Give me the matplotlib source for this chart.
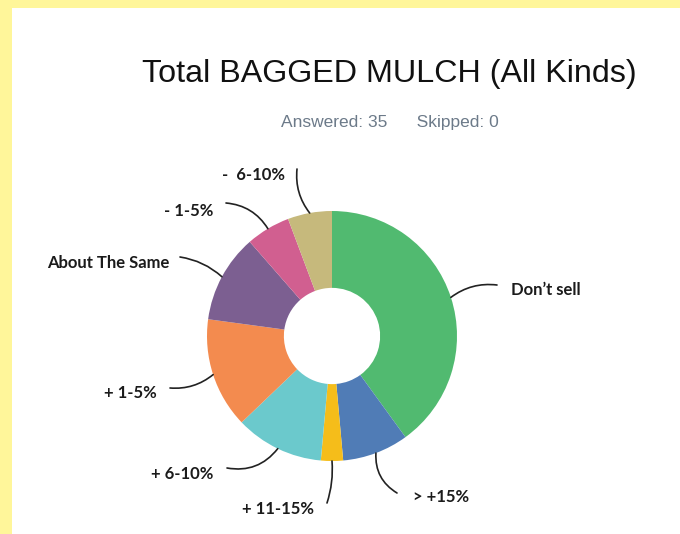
import numpy as np
import matplotlib.pyplot as plt
from matplotlib.patches import Rectangle

W, H = 680, 534

# 数据（共 35 份回答）
labels = ["Don\u2019t sell", "> +15%", "+ 11-15%", "+ 6-10%", "+ 1-5%",
          "About The Same", "- 1-5%", "-  6-10%"]
counts = [14, 3, 1, 4, 5, 4, 2, 2]
colors = ["#51BA70", "#507CB6", "#F5BD1A", "#6BC9CC", "#F38B4F",
          "#7C5F91", "#D15F90", "#C6B97C"]
answered = 35
skipped = 0

# 标签位置（像素坐标, y 从上往下）: 文字左端, 文字中心 y, 连线终点, 弧度
label_pos = [(511, 290), (413, 497), (242, 509), (151, 474),
             (104, 393), (47, 263), (164, 211), (222, 175)]
line_end = [(497, 285), (397, 493), (327, 503), (227, 468),
            (170, 388), (180, 257), (226, 203), (297, 169)]
line_rad = [-0.2, 0.3, -0.1, -0.3, -0.2, 0.15, 0.25, -0.2]

cx, cy, R = 332, 336, 125

fig = plt.figure(figsize=(W / 100, H / 100), dpi=100)
fig.patch.set_facecolor("#FFF69A")
ax = fig.add_axes([0, 0, 1, 1])
ax.add_patch(Rectangle((12, 0), W - 12, H - 8, facecolor="white",
                       edgecolor="none", zorder=0))

wedges, _ = ax.pie(counts, colors=colors, center=(cx, H - cy), radius=R,
                   startangle=90, counterclock=False, frame=True,
                   wedgeprops=dict(width=R * 0.615, linewidth=0))

for w, lab, (tx, ty), (ex, ey), rad in zip(wedges, labels, label_pos,
                                           line_end, line_rad):
    mid = np.deg2rad((w.theta1 + w.theta2) / 2)
    sx = cx + R * np.cos(mid)
    sy = (H - cy) + R * np.sin(mid)
    ax.annotate("", xy=(ex, H - ey), xytext=(sx, sy),
                arrowprops=dict(arrowstyle="-", color="#222222", lw=1.2,
                                shrinkA=0, shrinkB=0,
                                connectionstyle=f"arc3,rad={rad}"))
    ax.text(tx, H - ty, lab, ha="left", va="center", fontsize=12,
            fontweight="bold", family="Lato", color="#1b1b1b")

ax.text(389, H - 82, "Total BAGGED MULCH (All Kinds)", ha="center",
        va="baseline", fontsize=23.2, family="Liberation Sans", color="#111111")
ax.text(390, H - 123, f"Answered: {answered}      Skipped: {skipped}",
        ha="center", va="center", fontsize=12.5, family="Liberation Sans",
        color="#6C7A89")

ax.set_xlim(0, W)
ax.set_ylim(0, H)
ax.set_aspect("auto")
ax.axis("off")

fig.savefig("out.png", dpi=100, facecolor=fig.get_facecolor())
